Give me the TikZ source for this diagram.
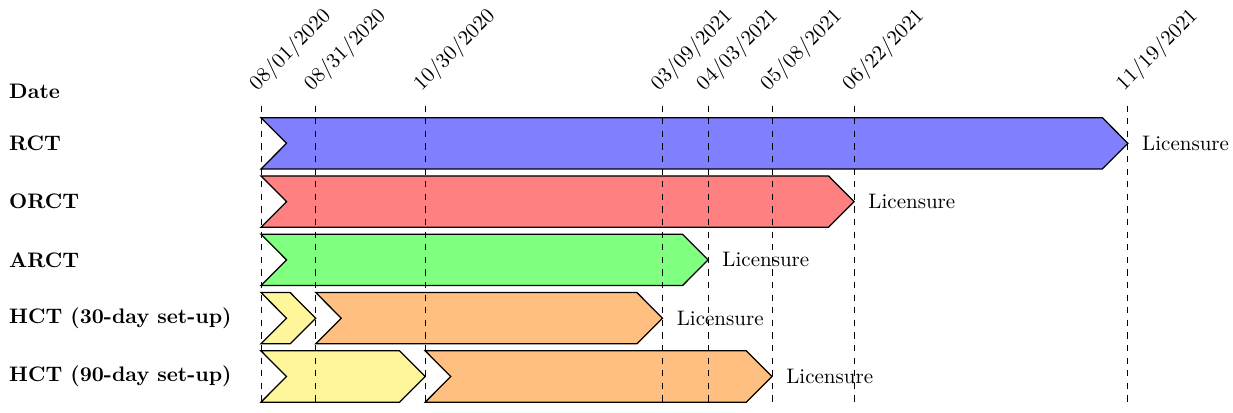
\documentclass[tikz,border=0pt]{standalone}
\usepackage{tikz}
\usetikzlibrary{positioning}
\definecolor{setupyellow}{RGB}{255,245,155}
\tikzset{
    % Row label on the left
    rowlabel/.style={anchor=west,font=\bfseries},
    % Date written above a guide line
    datelabel/.style={rotate=45,anchor=south west},
    % Dashed guide line
    guide/.style={dashed,thin},
    % Phase bar outline
    phase/.style={draw,semithick,line join=miter},
    % Text after the last phase
    endlabel/.style={inner sep=3.33pt}
}
% phase bar: colour, start day, end day, row, name of the tip
\newcommand{\phasebar}[5]{%
    \draw[phase,fill=#1] (#2,#4+0.44) -- (#3-14,#4+0.44) -- (#3,#4) coordinate (#5)
        -- (#3-14,#4-0.44) -- (#2,#4-0.44) -- (#2+14,#4) -- cycle;}

\begin{document}
\begin{tikzpicture}[x=0.869pt,y=27.76pt]
    \useasboundingbox (-143,2.458) rectangle (532.6,-4.609);

    % Row labels
    \foreach \name/\txt/\row in {date/Date/0.885, rct/RCT/0, orct/ORCT/-1, arct/ARCT/-2,
        hcta/HCT (30-day set-up)/-3, hctb/HCT (90-day set-up)/-4}
        \node[rowlabel] (lbl-\name) at (-142,\row) {\txt};

    % Phases (x in days from 08/01/2020)
    \phasebar{blue!50}{0}{475}{0}{rct}
    \phasebar{red!50}{0}{325}{-1}{orct}
    \phasebar{green!50}{0}{245}{-2}{arct}
    \phasebar{setupyellow}{0}{30}{-3}{hcta-setup}
    \phasebar{orange!50}{30}{220}{-3}{hcta}
    \phasebar{setupyellow}{0}{90}{-4}{hctb-setup}
    \phasebar{orange!50}{90}{280}{-4}{hctb}

    % Guide lines with dates
    \foreach \d/\lab in {0/{08/01/2020}, 30/{08/31/2020}, 90/{10/30/2020}, 220/{03/09/2021},
        245/{04/03/2021}, 280/{05/08/2021}, 325/{06/22/2021}, 475/{11/19/2021}} {
        \coordinate (top\d) at (\d,0.648);
        \coordinate (bot\d) at (\d,-4.52);
        \draw[guide] (top\d) -- (bot\d);
        \node[datelabel] (date\d) at (top\d) {\lab};
    }

    % Licensure
    \foreach \tip in {rct,orct,arct,hcta,hctb}
        \node[endlabel,right=3.3pt of \tip] (lic-\tip) {Licensure};
\end{tikzpicture}
\end{document}
